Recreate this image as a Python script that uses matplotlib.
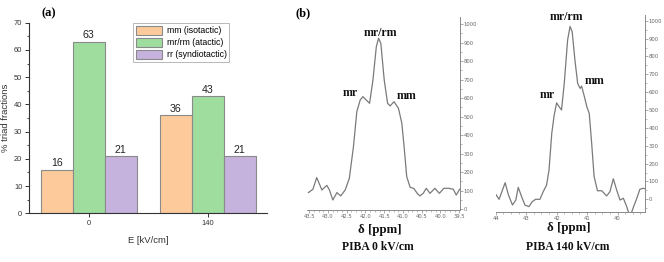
import matplotlib
matplotlib.use("Agg")
import matplotlib.pyplot as plt
from matplotlib.ticker import MultipleLocator, AutoMinorLocator, FormatStrFormatter
from matplotlib.patches import Patch
import numpy as np

# ---------------- data ----------------
fields = ["0", "140"]
series_names = ["mm (isotactic)", "mr/rm (atactic)", "rr (syndiotactic)"]
mm_vals = [16, 36]
mr_vals = [63, 43]
rr_vals = [21, 21]

ppm_0 = [43.52, 43.40, 43.30, 43.16, 43.03, 42.96, 42.87, 42.76, 42.66, 42.54,
         42.43, 42.32, 42.23, 42.14, 42.07, 41.98, 41.89, 41.80, 41.71, 41.65,
         41.59, 41.50, 41.41, 41.34, 41.24, 41.12, 41.03, 40.97, 40.90, 40.81,
         40.71, 40.62, 40.55, 40.46, 40.38, 40.28, 40.15, 40.03, 39.91, 39.78,
         39.66, 39.58, 39.49]
int_0 = [90, 108, 171, 104, 129, 104, 50, 90, 72, 104,
         167, 338, 527, 590, 608, 590, 572, 698, 878, 923,
         896, 698, 572, 558, 581, 545, 464, 338, 176, 119,
         112, 86, 72, 86, 113, 86, 113, 86, 113, 113,
         108, 77, 108]

ppm_140 = [44.02, 43.89, 43.69, 43.58, 43.45, 43.34, 43.26, 43.15, 43.04, 42.91,
           42.80, 42.69, 42.55, 42.44, 42.33, 42.25, 42.16, 42.08, 42.00, 41.92,
           41.84, 41.75, 41.64, 41.56, 41.49, 41.40, 41.31, 41.23, 41.18, 41.09,
           41.01, 40.93, 40.85, 40.77, 40.66, 40.52, 40.36, 40.25, 40.14, 40.03,
           39.92, 39.81, 39.70, 39.65, 39.59, 39.53, 39.45, 39.38, 39.27, 39.16,
           39.12]
int_140 = [34, 0, 93, 24, -32, -4, 67, 15, -32, -41,
           -13, 0, 0, 43, 80, 164, 369, 472, 540, 519,
           500, 649, 892, 968, 938, 780, 649, 621, 634, 575,
           519, 481, 313, 127, 48, 48, 19, 43, 115, 52,
           -4, 6, -41, -68, -110, -68, -30, 0, 56, 62,
           60]

colors = ["#FDCB9B", "#9FDD9F", "#C6B3DD"]
edge = "#8a8a8a"
line_col = "#7a7a7a"

fig = plt.figure(figsize=(6.64, 2.62), dpi=100)
W, H = 664.0, 262.0

def rect(l, t, r, b):
    return [l / W, 1 - b / H, (r - l) / W, (b - t) / H]

sans = "Liberation Sans"
serif = "Liberation Serif"

# ---------------- panel (a) ----------------
ax = fig.add_axes(rect(29.3, 22.7, 267.3, 213.3))
x = np.arange(len(fields))
w = 0.269
for i, (vals, c, name) in enumerate(zip([mm_vals, mr_vals, rr_vals], colors, series_names)):
    bars = ax.bar(x + (i - 1) * w, vals, width=w, color=c, edgecolor=edge, linewidth=0.8, label=name)
    for b, v in zip(bars, vals):
        ax.text(b.get_x() + b.get_width() / 2, v + 0.5, f"{v}", ha="center", va="bottom",
                fontsize=7.6, family=sans, color="#222222")
ax.set_xlim(-0.5, 1.5)
ax.set_ylim(0, 70)
ax.set_xticks(x)
ax.set_xticklabels(fields, fontsize=5.4, family=sans, color="#333333")
ax.yaxis.set_major_locator(MultipleLocator(10))
ax.yaxis.set_minor_locator(MultipleLocator(5))
for lab in ax.get_yticklabels():
    lab.set_fontsize(5.4)
    lab.set_family(sans)
    lab.set_color("#333333")
ax.tick_params(axis="both", which="major", length=3, width=0.7, color="#333333", pad=2)
ax.tick_params(axis="both", which="minor", length=1.8, width=0.6, color="#333333")
for s in ["top", "right"]:
    ax.spines[s].set_visible(False)
for s in ["left", "bottom"]:
    ax.spines[s].set_linewidth(0.8)
    ax.spines[s].set_color("#333333")
ax.set_ylabel("% triad fractions", fontsize=6.8, family=sans, color="#333333", labelpad=3)
ax.set_xlabel("E [kV/cm]", fontsize=6.8, family=sans, color="#333333", labelpad=6)
handles = [Patch(facecolor=c, edgecolor=edge, linewidth=0.8) for c in colors]
leg = ax.legend(handles, series_names, loc="upper right", bbox_to_anchor=(0.84, 0.997),
                prop={"family": sans, "size": 6.3}, frameon=True, fancybox=False,
                edgecolor="#999999", handlelength=3.0, handleheight=1.2, borderpad=0.3,
                labelspacing=0.3, handletextpad=0.5, borderaxespad=0.0)
leg.get_frame().set_linewidth(0.6)
fig.text(41 / W, 1 - 13 / H, "(a)", fontsize=9, family=serif, weight="bold", va="center")

# ---------------- panel (b) spectra ----------------
def spectrum(box, ppm, inten, xlim, ylim, major, minor_n, labels, fmt):
    a = fig.add_axes(rect(*box))
    a.plot(ppm, inten, color=line_col, linewidth=0.9)
    a.set_xlim(*xlim)
    a.set_ylim(*ylim)
    a.yaxis.tick_right()
    for s in ["top", "left"]:
        a.spines[s].set_visible(False)
    for s in ["right", "bottom"]:
        a.spines[s].set_color("#8a8a8a")
        a.spines[s].set_linewidth(0.7)
    a.xaxis.set_major_locator(MultipleLocator(major))
    a.xaxis.set_minor_locator(AutoMinorLocator(minor_n))
    a.yaxis.set_major_locator(MultipleLocator(100))
    a.yaxis.set_minor_locator(MultipleLocator(50))
    a.xaxis.set_major_formatter(FormatStrFormatter(fmt))
    a.tick_params(axis="both", which="major", length=1.8, width=0.5, color="#8a8a8a",
                  labelsize=3.8, labelcolor="#666666", pad=1.0)
    a.tick_params(axis="both", which="minor", length=1.1, width=0.4, color="#8a8a8a")
    a.patch.set_alpha(0)
    for (tx, ty, s) in labels:
        a.text(tx, ty, s, ha="center", va="center", fontsize=8.6, family=serif,
               weight="bold", color="#111111")
    return a

a1 = spectrum((307.3, 17, 460, 210), ppm_0, int_0, (43.55, 39.48), (-4, 1038), 0.5, 4,
              [(41.61, 950, "mr/rm"), (42.41, 629, "mr"), (40.90, 613, "mm")], "%.1f")
a2 = spectrum((495.7, 15, 645, 212), ppm_140, int_140, (44.0, 39.1), (-71, 1032), 1.0, 4,
              [(41.67, 1019, "mr/rm"), (42.30, 584, "mr"), (40.74, 664, "mm")], "%.0f")

fig.text(296 / W, 1 - 13.3 / H, "(b)", fontsize=9, family=serif, weight="bold", va="center")
fig.text(380 / W, 1 - 230.5 / H, "\u03b4 [ppm]", fontsize=9.3, family=serif, weight="bold",
         ha="center", va="center", color="#111111")
fig.text(378 / W, 1 - 247 / H, "PIBA 0 kV/cm", fontsize=8.4, family=serif, weight="bold",
         ha="center", va="center", color="#111111")
fig.text(569 / W, 1 - 228 / H, "\u03b4 [ppm]", fontsize=9.3, family=serif, weight="bold",
         ha="center", va="center", color="#111111")
fig.text(568 / W, 1 - 247 / H, "PIBA 140 kV/cm", fontsize=8.4, family=serif, weight="bold",
         ha="center", va="center", color="#111111")

fig.savefig("out.png", dpi=100)
